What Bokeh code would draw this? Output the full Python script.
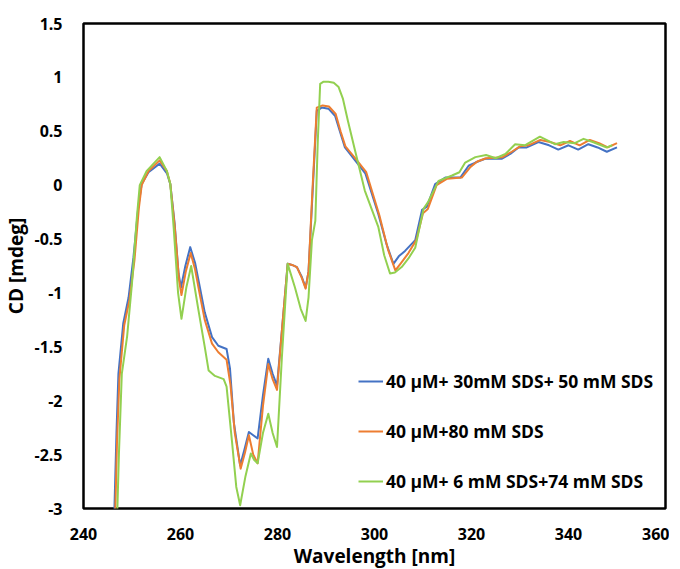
from bokeh.plotting import figure
from bokeh.models import Range1d, FixedTicker, Legend, LegendItem
from bokeh.embed import file_html
from bokeh.resources import INLINE

# ---------------- data ----------------
blue_x = [246.2, 246.8, 247.2, 248.2, 249.3, 250.3, 251.3, 252.0, 253.4, 255.7, 257.2, 257.9,
          258.8, 259.6, 260.1, 261.0, 262.0, 263.0, 264.0, 265.0, 266.5, 267.8, 269.5, 270.2,
          271.0, 272.3, 273.2, 274.1, 275.0, 275.9, 277.0, 278.1, 279.0, 279.9, 281.0, 282.1,
          283.0, 284.0, 285.0, 285.8, 286.4, 287.2, 288.1, 289.1, 290.5, 291.9, 293.0, 293.9,
          296.0, 298.1, 300.8, 302.5, 303.9, 305.0, 306.3, 308.4, 309.8, 310.8, 312.5, 314.6,
          317.7, 319.4, 320.8, 322.8, 326.2, 328.0, 329.7, 331.4, 333.8, 336.0, 337.9, 340.0,
          342.0, 344.1, 346.0, 347.9, 350.0]
blue_y = [-3.3, -2.3, -1.75, -1.28, -1.04, -0.67, -0.2, 0.01, 0.12, 0.20, 0.11, 0.01,
          -0.36, -0.82, -0.95, -0.75, -0.575, -0.72, -0.95, -1.18, -1.41, -1.49, -1.52, -1.7,
          -2.2, -2.60, -2.45, -2.29, -2.32, -2.35, -1.95, -1.61, -1.75, -1.86, -1.3, -0.73,
          -0.74, -0.76, -0.85, -0.95, -0.8, -0.1, 0.69, 0.72, 0.71, 0.64, 0.48, 0.35,
          0.23, 0.11, -0.27, -0.55, -0.73, -0.66, -0.61, -0.51, -0.23, -0.2, 0.01, 0.07,
          0.07, 0.18, 0.21, 0.245, 0.245, 0.29, 0.35, 0.35, 0.40, 0.37, 0.33, 0.37,
          0.33, 0.38, 0.35, 0.31, 0.35]

orange_x = [246.4, 246.9, 247.4, 248.4, 249.5, 250.5, 251.4, 252.0, 253.4, 255.7, 257.2, 257.9,
            258.8, 259.7, 260.2, 261.1, 262.1, 263.0, 264.0, 265.0, 266.5, 267.8, 269.5, 270.3,
            271.2, 272.4, 273.3, 274.1, 275.0, 275.9, 277.0, 278.1, 279.0, 279.9, 281.0, 282.1,
            283.0, 284.0, 285.0, 285.8, 286.4, 287.2, 288.1, 289.3, 290.6, 292.0, 293.0, 294.0,
            296.0, 298.3, 301.0, 302.8, 304.3, 305.5, 307.0, 308.6, 310.0, 311.0, 312.8, 315.0,
            318.0, 319.8, 321.2, 323.0, 326.4, 328.3, 330.0, 331.7, 334.2, 336.2, 338.3, 340.3,
            342.3, 344.4, 346.3, 348.1, 350.0]
orange_y = [-3.3, -2.4, -1.8, -1.3, -1.06, -0.7, -0.22, 0.0, 0.13, 0.23, 0.13, 0.01,
            -0.38, -0.88, -1.02, -0.8, -0.63, -0.78, -1.02, -1.25, -1.47, -1.55, -1.62, -1.85,
            -2.3, -2.63, -2.48, -2.32, -2.5, -2.58, -2.05, -1.66, -1.8, -1.9, -1.3, -0.73,
            -0.74, -0.76, -0.86, -0.96, -0.8, -0.05, 0.72, 0.74, 0.73, 0.66, 0.5, 0.36,
            0.25, 0.12, -0.28, -0.6, -0.79, -0.72, -0.63, -0.51, -0.26, -0.22, 0.0, 0.06,
            0.07, 0.17, 0.22, 0.25, 0.26, 0.31, 0.36, 0.37, 0.42, 0.40, 0.37, 0.41,
            0.37, 0.42, 0.39, 0.35, 0.39]

green_x = [246.8, 247.3, 247.9, 249.0, 250.0, 251.0, 251.6, 253.0, 255.7, 257.2, 257.9,
           258.6, 259.5, 260.2, 261.2, 262.2, 263.7, 265.0, 265.8, 267.1, 268.9, 269.5,
           270.6, 271.5, 272.3, 273.4, 274.5, 275.2, 275.9, 277.0, 278.1, 279.0, 279.9,
           280.9, 282.1, 283.6, 284.8, 285.8, 286.4, 287.1, 287.8, 288.3, 288.8, 289.5,
           290.5, 291.6, 292.6, 293.5, 294.5, 296.0, 298.0, 300.8, 302.0, 303.2, 304.2,
           305.6, 307.0, 308.4, 310.1, 311.0, 313.2, 316.0, 317.5, 318.7, 320.8, 323.0,
           325.0, 327.0, 329.0, 331.0, 334.1, 337.2, 339.0, 341.3, 343.1, 345.0, 347.9, 349.0]
green_y = [-3.3, -2.5, -1.75, -1.4, -0.91, -0.3, 0.0, 0.13, 0.26, 0.13, 0.01,
           -0.4, -1.0, -1.24, -0.95, -0.75, -1.16, -1.5, -1.72, -1.77, -1.80, -1.87,
           -2.37, -2.8, -2.97, -2.7, -2.49, -2.55, -2.58, -2.3, -2.12, -2.3, -2.43,
           -1.6, -0.73, -0.95, -1.15, -1.26, -1.04, -0.51, -0.33, 0.4, 0.94, 0.96,
           0.96, 0.95, 0.91, 0.8, 0.6, 0.32, -0.05, -0.39, -0.65, -0.82, -0.81,
           -0.76, -0.68, -0.58, -0.22, -0.16, 0.04, 0.09, 0.12, 0.21, 0.26, 0.28,
           0.25, 0.29, 0.38, 0.37, 0.45, 0.38, 0.40, 0.39, 0.43, 0.40, 0.35, 0.37]

series_names = ["40 \u00b5M+ 30mM SDS+ 50 mM SDS",
                "40 \u00b5M+80 mM SDS",
                "40 \u00b5M+ 6 mM SDS+74 mM SDS"]
series_colors = ["#4472C4", "#ED7D31", "#92D050"]

x_ticks = [240, 260, 280, 300, 320, 340, 360]
y_ticks = [-3, -2.5, -2, -1.5, -1, -0.5, 0, 0.5, 1, 1.5]
y_tick_labels = ["-3", "-2.5", "-2", "-1.5", "-1", "-0.5", "0", "0.5", "1", "1.5"]

# ---------------- figure ----------------
FONT = "Open Sans"
p = figure(frame_width=582, frame_height=485,
           x_range=Range1d(240, 360), y_range=Range1d(-3, 1.5),
           output_backend="svg", toolbar_location=None,
           min_border_left=79, min_border_right=4, min_border_top=23, min_border_bottom=4)

p.background_fill_color = "white"
p.border_fill_color = "white"
p.outline_line_color = "black"
p.outline_line_width = 2.5
p.xgrid.visible = False
p.ygrid.visible = False

for ax in (p.xaxis[0], p.yaxis[0]):
    ax.axis_line_color = None
    ax.major_tick_line_color = None
    ax.minor_tick_line_color = None
    ax.major_label_text_font = FONT
    ax.major_label_text_font_style = "bold"
    ax.major_label_text_font_size = "16px"
    ax.major_label_text_color = "black"
    ax.axis_label_text_font = FONT
    ax.axis_label_text_font_style = "bold"
    ax.axis_label_text_font_size = "19px"
    ax.axis_label_text_color = "black"

p.xaxis.ticker = FixedTicker(ticks=x_ticks)
p.yaxis.ticker = FixedTicker(ticks=y_ticks)
p.yaxis.major_label_overrides = {t: l for t, l in zip(y_ticks, y_tick_labels)}
p.xaxis.axis_label = "Wavelength [nm]"
p.yaxis.axis_label = "CD [mdeg]"
p.xaxis.major_label_standoff = 13
p.yaxis.major_label_standoff = 15
p.xaxis.axis_label_standoff = 0
p.yaxis.axis_label_standoff = 2

xs = [blue_x, orange_x, green_x]
ys = [blue_y, orange_y, green_y]
renderers = []
for x, y, c in zip(xs, ys, series_colors):
    r = p.line(x, y, line_color=c, line_width=2, line_join="round")
    renderers.append(r)

legend = Legend(items=[LegendItem(label=n, renderers=[r]) for n, r in zip(series_names, renderers)],
                location=(275, 15))
legend.background_fill_alpha = 0
legend.border_line_color = None
legend.padding = 0
legend.margin = 0
legend.spacing = 26
legend.glyph_width = 25
legend.glyph_height = 20
legend.label_height = 20
legend.label_standoff = 3
legend.label_text_font = FONT
legend.label_text_font_style = "bold"
legend.label_text_font_size = "17.5px"
legend.label_text_color = "black"
p.add_layout(legend, "center")

open("out.html", "w").write(file_html(p, INLINE))
